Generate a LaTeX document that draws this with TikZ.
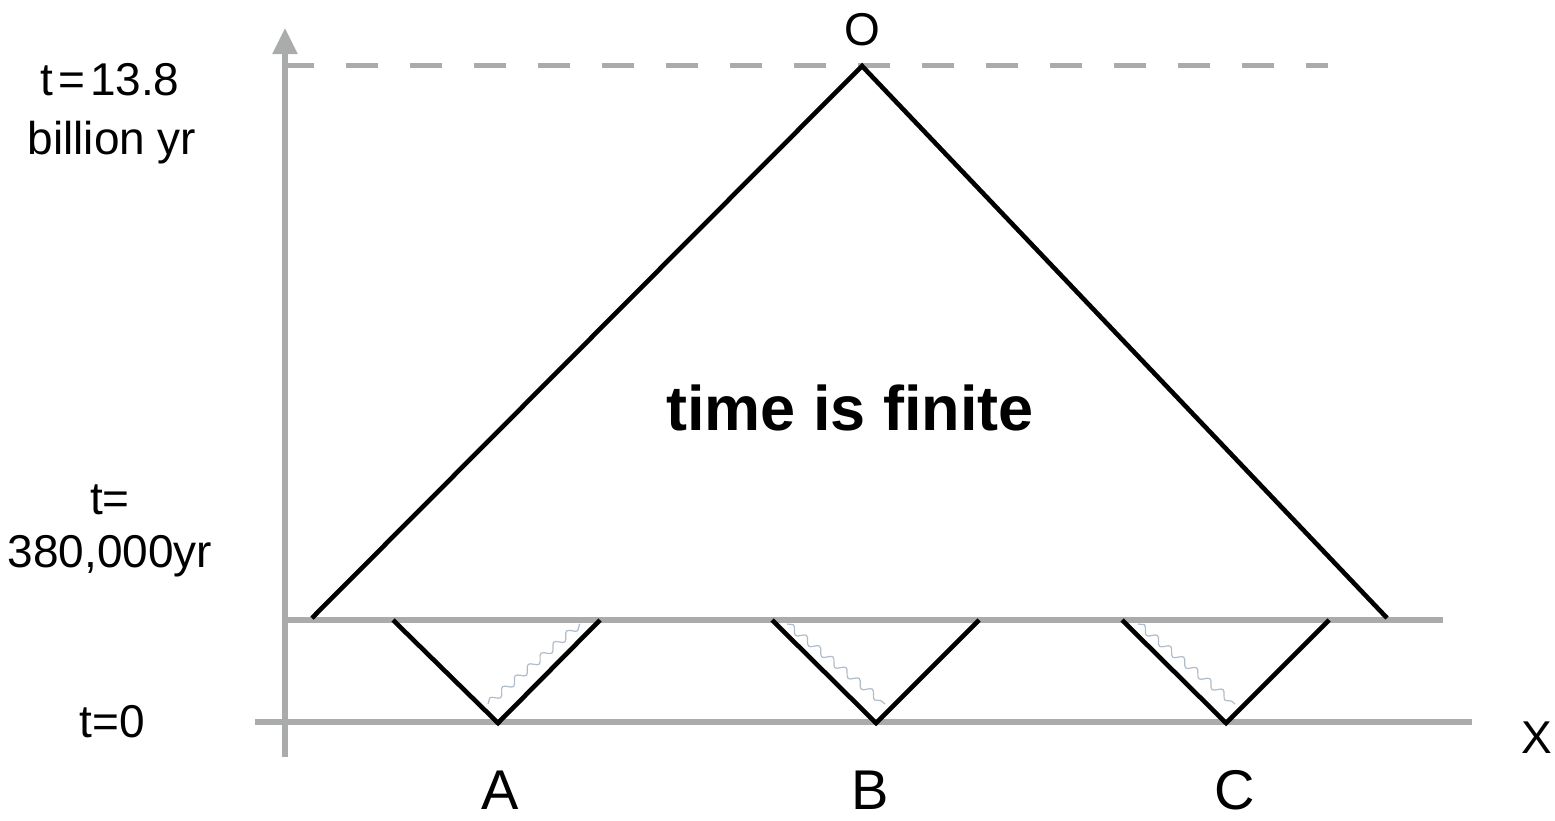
\documentclass[tikz,border=0pt]{standalone}
\usepackage{fontspec}
\setmainfont{Liberation Sans}
\usetikzlibrary{decorations.pathmorphing,arrows.meta}
\definecolor{axisgray}{RGB}{170,172,172}
\definecolor{wavecol}{RGB}{175,188,202}
\tikzset{
  axisline/.style={draw=axisgray,line width=5.5pt},
  coneline/.style={draw=black,line width=4.6pt,line join=miter},
  wave/.style={draw=wavecol,line width=1.2pt,decorate,decoration={snake,amplitude=3.5pt,segment length=17pt}},
  lbl/.style={inner sep=0pt,font=\fontsize{46}{50}\selectfont},
  biglbl/.style={inner sep=0pt,font=\fontsize{56}{60}\selectfont},
}
\begin{document}
\begin{tikzpicture}[x=1pt,y=-1pt]
\useasboundingbox (0,0) rectangle (1555,820);
% axes
\coordinate (yb) at (285,757);
\coordinate (yt) at (285,28);
\coordinate (xl) at (255,722);
\coordinate (xr) at (1472,722);
\coordinate (hl) at (285,620);
\coordinate (hr) at (1443,620);
\coordinate (dl) at (282,65);
\coordinate (dr) at (1328,65);
\draw[axisline,dash pattern=on 32pt off 32pt,line width=5pt] (dl) -- (dr);
\draw[axisline,-{Triangle[width=24pt,length=26pt]}] (yb) -- (yt);
\draw[axisline] (xl) -- (xr);
\draw[axisline] (hl) -- (hr);
% big cone
\coordinate (O) at (862,66);
\coordinate (L) at (312,618);
\coordinate (R) at (1387,618);
\draw[coneline] (L) -- (O) -- (R);
% small cones
\coordinate (Al) at (393,620); \coordinate (Ab) at (498,723); \coordinate (Ar) at (600,620);
\coordinate (Bl) at (772,620); \coordinate (Bb) at (876,723); \coordinate (Br) at (979,620);
\coordinate (Cl) at (1122,620); \coordinate (Cb) at (1226,723); \coordinate (Cr) at (1329,620);
\draw[coneline] (Al) -- (Ab) -- (Ar);
\draw[coneline] (Bl) -- (Bb) -- (Br);
\draw[coneline] (Cl) -- (Cb) -- (Cr);
% waves
\coordinate (wa1) at (488,704); \coordinate (wa2) at (580,624);
\coordinate (wb1) at (787,624); \coordinate (wb2) at (885,704);
\coordinate (wc1) at (1138,624); \coordinate (wc2) at (1235,704);
\draw[wave] (wa1) -- (wa2);
\draw[wave] (wb1) -- (wb2);
\draw[wave] (wc1) -- (wc2);
% labels
\node[lbl] (t1) at (110,80) {t\hspace{5pt}=\hspace{5pt}13.8};
\node[lbl] (t1b) at (112,143) {billion yr};
\node[lbl] (t2) at (110,500) {t=};
\node[lbl] (t2b) at (110,556) {380,000yr};
\node[lbl] (t0) at (112,722) {t=0};
\node[lbl] (lO) at (862,30) {O};
\node[lbl] (lX) at (1537,738) {X};
\node[biglbl] (lA) at (500,790) {A};
\node[biglbl] (lB) at (870,790) {B};
\node[biglbl] (lC) at (1235,790) {C};
\node[inner sep=0pt,font=\fontsize{63}{66}\selectfont\bfseries] (fin) at (850,408) {time is finite};
\end{tikzpicture}
\end{document}
